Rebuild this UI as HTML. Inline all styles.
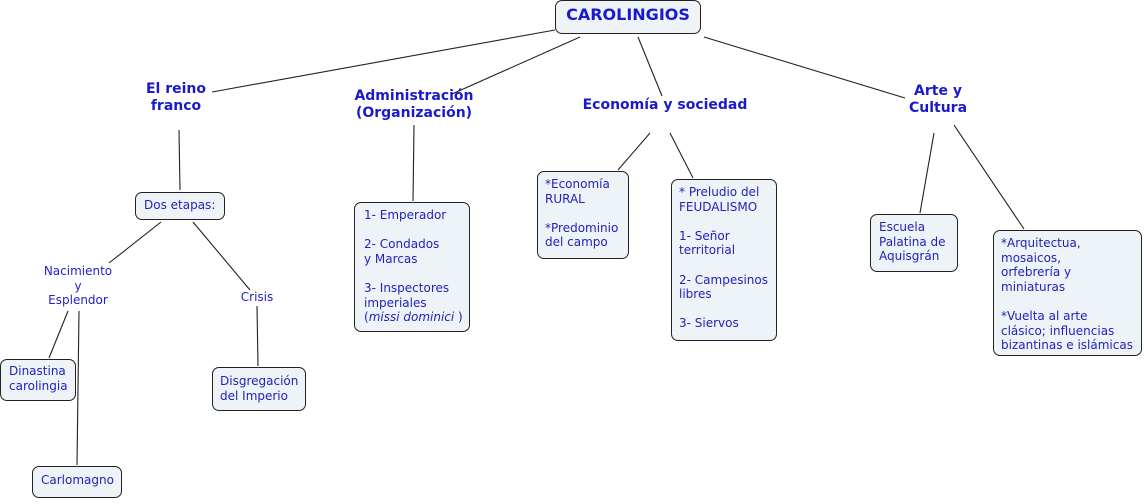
<!DOCTYPE html>
<html><head><meta charset="utf-8"><style>
body{margin:0;width:1144px;height:504px;background:#fff;position:relative;overflow:hidden;font-family:"DejaVu Sans","Liberation Sans",sans-serif;}
.b{position:absolute;box-sizing:border-box;background:#eef3f7;border:1.3px solid #222;border-radius:7px;color:#2222bb;font-size:12px;line-height:14.6px;padding:5px 8px;white-space:nowrap;}
.t{position:absolute;color:#2222cc;font-size:12px;line-height:14.6px;text-align:center;white-space:nowrap;}
.h{position:absolute;color:#1a1acc;font-weight:bold;font-size:14px;line-height:17px;text-align:center;white-space:nowrap;}
svg{position:absolute;left:0;top:0}
</style></head><body>
<svg width="1144" height="504"><g stroke="#222" stroke-width="1.1">
<line x1="555" y1="30" x2="212" y2="92"/>
<line x1="580" y1="37" x2="452" y2="94"/>
<line x1="638" y1="37" x2="662" y2="96"/>
<line x1="704" y1="37" x2="905" y2="98"/>
<line x1="179" y1="130" x2="180" y2="190"/>
<line x1="414" y1="125" x2="413" y2="201"/>
<line x1="650" y1="133" x2="618" y2="170"/>
<line x1="670" y1="133" x2="693" y2="178"/>
<line x1="934" y1="133" x2="920" y2="213"/>
<line x1="954" y1="125" x2="1024" y2="229"/>
<line x1="161" y1="222" x2="109" y2="263"/>
<line x1="193" y1="222" x2="250" y2="290"/>
<line x1="68" y1="311" x2="49" y2="358"/>
<line x1="79" y1="311" x2="77" y2="465"/>
<line x1="257" y1="306" x2="258" y2="366"/>
</g></svg>
<div class="b" style="left:555px;top:0;width:146px;height:34px;font-weight:bold;font-size:16px;color:#1a1acc;padding:7px 0 0;text-align:center">CAROLINGIOS</div>
<div class="h" style="left:126px;top:81px;width:100px">El reino<br>franco</div>
<div class="h" style="left:339px;top:88px;width:150px">Administración<br>(Organización)</div>
<div class="h" style="left:565px;top:97px;width:200px">Economía y sociedad</div>
<div class="h" style="left:888px;top:83px;width:100px">Arte y<br>Cultura</div>
<div class="b" style="left:135px;top:192px;width:90px;height:28px;padding-top:5px">Dos etapas:</div>
<div class="t" style="left:28px;top:264px;width:100px">Nacimiento<br>y<br>Esplendor</div>
<div class="t" style="left:227px;top:290px;width:60px">Crisis</div>
<div class="b" style="left:0;top:359px;width:76px;height:42px;padding:4px 8px">Dinastina<br>carolingia</div>
<div class="b" style="left:32px;top:466px;width:90px;height:32px;padding-top:6px">Carlomagno</div>
<div class="b" style="left:212px;top:367px;width:94px;height:44px;padding:6px 7px">Disgregación<br>del Imperio</div>
<div class="b" style="left:354px;top:202px;width:116px;height:130px;padding:5px 9px">1- Emperador<br><br>2- Condados<br>y Marcas<br><br>3- Inspectores<br>imperiales<br>(<i>missi dominici</i> )</div>
<div class="b" style="left:537px;top:171px;width:92px;height:88px;padding:5px 7px">*Economía<br>RURAL<br><br>*Predominio<br>del campo</div>
<div class="b" style="left:671px;top:179px;width:106px;height:162px;padding:5px 7px">* Preludio del<br>FEUDALISMO<br><br>1- Señor<br>territorial<br><br>2- Campesinos<br>libres<br><br>3- Siervos</div>
<div class="b" style="left:870px;top:214px;width:88px;height:58px;padding:5px 8px">Escuela<br>Palatina de<br>Aquisgrán</div>
<div class="b" style="left:993px;top:230px;width:149px;height:126px;padding:5px 7px">*Arquitectua,<br>mosaicos,<br>orfebrería y<br>miniaturas<br><br>*Vuelta al arte<br>clásico; influencias<br>bizantinas e islámicas</div>
</body></html>
